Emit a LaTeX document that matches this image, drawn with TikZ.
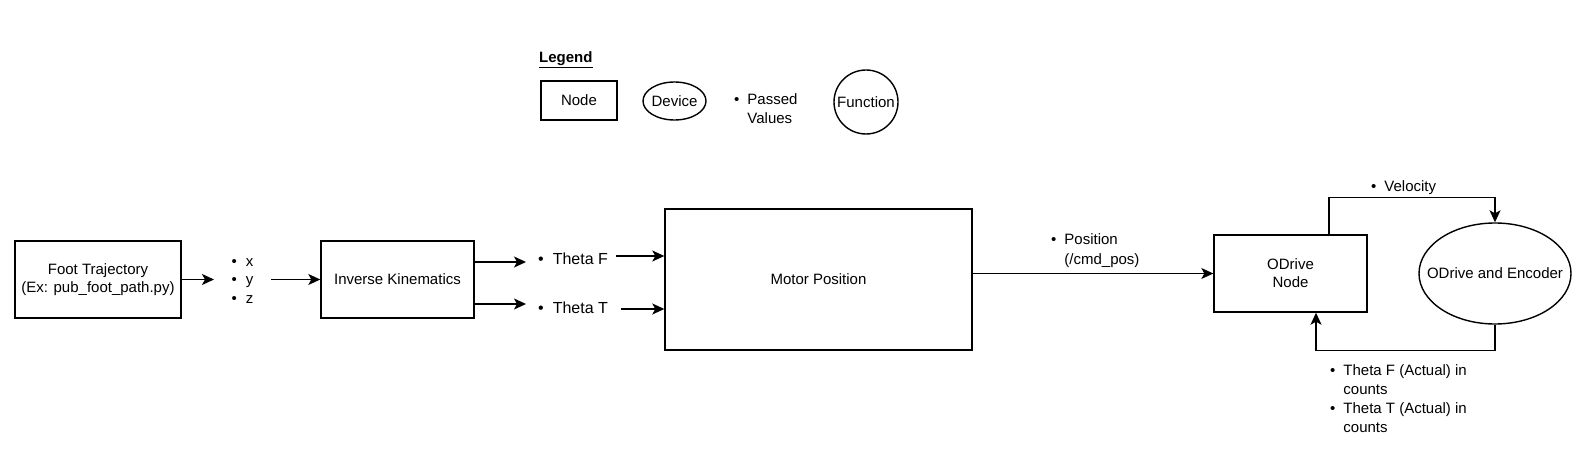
\documentclass[tikz,border=0pt]{standalone}
\usepackage{fontspec}
\setmainfont{Liberation Sans}
\usetikzlibrary{arrows.meta,shapes.geometric}
\newcommand{\myfs}{\fontsize{15}{18}\selectfont}
\newcommand{\myfsl}{\fontsize{15}{19}\selectfont}
\newcommand{\myfsb}{\fontsize{16}{19}\selectfont}
\begin{document}
\begin{tikzpicture}[x=1pt,y=-1pt,
  box/.style={draw, line width=1.4pt, inner sep=0pt, align=center, font=\myfs},
  ell/.style={draw, ellipse, line width=1.4pt, inner sep=0pt},
  circ/.style={draw, circle, line width=1.4pt, inner sep=0pt, align=center, font=\myfs},
  txt/.style={inner sep=0pt, align=center, font=\myfs},
  lbl/.style={inner sep=0pt, anchor=west, font=\myfs},
  lbll/.style={inner sep=0pt, anchor=west, font=\myfsl},
  lblb/.style={inner sep=0pt, anchor=west, font=\myfsb},
  arr/.style={line width=1.4pt, -{Stealth[length=12pt,width=11pt,inset=3pt]}}
]
\useasboundingbox (0,0) rectangle (1585,465);

% Legend
\node[inner sep=0pt, anchor=west, font=\myfs\bfseries] (leg) at (539,60) {\underline{Legend}};
\node[box, minimum width=76pt, minimum height=39pt] (lnode) at (579,100.5) {Node};
\node[ell, minimum width=63pt, minimum height=38pt] (ldev) at (674.5,101) {};
\node[txt] (ldevt) at (ldev.center) {Device};
\node[lbll] (lpass) at (734,110) {\begin{tabular}{@{}l@{\hspace{8pt}}l@{}}\textbullet & Passed\\ & Values\end{tabular}};
\node[circ, minimum size=64pt] (lfun) at (866,102) {Function};

% Main nodes
\node[box, minimum width=166pt, minimum height=77pt] (foot) at (98,279.5) {Foot Trajectory\\(Ex: pub\_foot\_path.py)};
\node[lbl] (xyz) at (231.5,281) {\begin{tabular}{@{}l@{\hspace{9pt}}l@{}}\textbullet & x\\[0.5pt] \textbullet & y\\[0.5pt] \textbullet & z\end{tabular}};
\node[box, minimum width=153pt, minimum height=77pt] (ik) at (397.5,279.5) {Inverse Kinematics};
\node[lblb] (tf) at (538,259) {\textbullet\hspace{9pt}Theta F};
\node[lblb] (tt) at (538,308) {\textbullet\hspace{9pt}Theta T};
\node[box, minimum width=307pt, minimum height=141pt] (motor) at (818.5,279.5) {Motor Position};
\node[lbll] (pos) at (1051,250.5) {\begin{tabular}{@{}l@{\hspace{8pt}}l@{}}\textbullet & Position\\[1pt] & (/cmd\_pos)\end{tabular}};
\node[box, minimum width=153pt, minimum height=77pt] (odrive) at (1290.5,273.5) {ODrive\\Node};
\node[ell, minimum width=152pt, minimum height=101pt] (enc) at (1495,273.5) {};
\node[txt] (enct) at (enc.center) {ODrive and Encoder};
\node[lbl] (vel) at (1371,188) {\textbullet\hspace{8pt}Velocity};
\node[lbll] (fb) at (1330,400.5) {\begin{tabular}{@{}l@{\hspace{8pt}}l@{}}\textbullet & Theta F (Actual) in\\ & counts\\ \textbullet & Theta T (Actual) in\\ & counts\end{tabular}};

% Free ends
\coordinate (xin) at (214,279.5);
\coordinate (xout) at (271,279.5);
\coordinate (tfin) at (526,262);
\coordinate (ttin) at (526,304);
\coordinate (tfout) at (616,256);
\coordinate (ttout) at (621,309);

% Connectors
\draw[arr] (foot.east |- xin) -- (xin);
\draw[arr] (xout) -- (ik.west |- xout);
\draw[arr] (ik.east |- tfin) -- (tfin);
\draw[arr] (ik.east |- ttin) -- (ttin);
\draw[arr] (tfout) -- (motor.west |- tfout);
\draw[arr] (ttout) -- (motor.west |- ttout);
\draw[arr] (motor.east |- odrive.west) -- (odrive.west);
\draw[arr] ([xshift=38.5pt]odrive.north) |- ([yshift=25pt]enc.north) -- (enc.north);
\draw[arr] (enc.south) -- ([yshift=-26pt]enc.south) -| ([xshift=25.5pt]odrive.south);
\end{tikzpicture}
\end{document}
